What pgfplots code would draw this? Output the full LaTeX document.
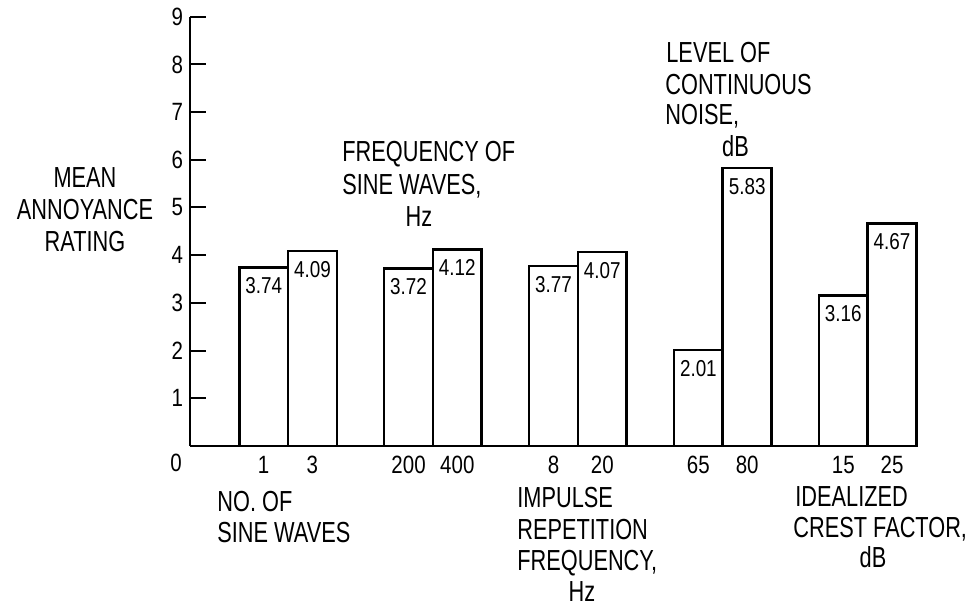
\documentclass[border=0pt]{standalone}
\usepackage{fontspec}
\setmainfont{Liberation Sans}[FakeStretch=0.75]
\newfontfamily\numfont{Liberation Sans}[FakeStretch=0.82]
\usepackage{pgfplots}
\pgfplotsset{compat=1.18}
\newcommand\lab{\fontsize{14.5}{17}\selectfont}
\begin{document}
\begin{tikzpicture}
\begin{scope}[x=0.5pt,y=-0.5pt]
\useasboundingbox (0,0) rectangle (971,608);
\end{scope}
\begin{axis}[
  at={(95pt,-223pt)}, anchor=south west,
  scale only axis, width=363.95pt, height=214.65pt,
  xmin=0, xmax=15.07, ymin=0, ymax=9,
  axis x line*=bottom, axis y line*=left,
  axis line style={line width=1.4pt},
  xtick={1.525,2.535,4.525,5.535,7.525,8.535,10.525,11.535,13.525,14.535},
  xticklabels={1,3,200,400,8,20,65,80,15,25},
  x tick style={draw=none},
  xticklabel style={yshift=-1.5pt},
  ytick={1,2,3,4,5,6,7,8,9}, yticklabels={1,2,3,4,5,6,7,8,9},
  y tick style={line width=1pt, black},
  major tick length=8pt, tick align=inside,
  ticklabel style={font=\numfont\fontsize{12.5}{14}\selectfont},
  /pgf/number format/assume math mode=true,
  clip=false,
]
\addplot[ybar, bar width=1.01, draw=black, fill=white, line width=1.3pt,
  nodes near coords, point meta=explicit symbolic,
  every node near coord/.append style={anchor=north, inner sep=0pt, yshift=-4.5pt,
    font=\numfont\fontsize{11.5}{13}\selectfont, text=black}]
coordinates {
(1.525,3.74)[3.74] (2.535,4.09)[4.09]
(4.525,3.72)[3.72] (5.535,4.12)[4.12]
(7.525,3.77)[3.77] (8.535,4.07)[4.07]
(10.525,2.01)[2.01] (11.535,5.83)[5.83]
(13.525,3.16)[3.16] (14.535,4.67)[4.67]
};
\end{axis}
\begin{scope}[x=0.5pt,y=-0.5pt, every node/.style={inner sep=0pt, font=\lab}]
\node[anchor=base] at (85,188) {MEAN};
\node[anchor=base] at (85,220) {ANNOYANCE};
\node[anchor=base] at (85,251.7) {RATING};
\node[anchor=base west] at (342,162) {FREQUENCY OF};
\node[anchor=base west] at (342,195) {SINE WAVES,};
\node[anchor=base] at (419,227) {Hz};
\node[anchor=base west] at (666,63) {LEVEL OF};
\node[anchor=base west] at (665,95) {CONTINUOUS};
\node[anchor=base west] at (665,125) {NOISE,};
\node[anchor=base] at (735.5,157) {dB};
\node[anchor=base west] at (217,511.7) {NO. OF};
\node[anchor=base west] at (217,543) {SINE WAVES};
\node[anchor=base west] at (517,508) {IMPULSE};
\node[anchor=base west] at (517,540) {REPETITION};
\node[anchor=base west] at (517,571) {FREQUENCY,};
\node[anchor=base] at (582,602) {Hz};
\node[anchor=base west] at (795,506.7) {IDEALIZED};
\node[anchor=base west] at (793,538) {CREST FACTOR,};
\node[anchor=base] at (873,568) {dB};
\node[anchor=base, font=\numfont\fontsize{12.5}{14}\selectfont] at (176,471.5) {0};
\end{scope}
\end{tikzpicture}
\end{document}
